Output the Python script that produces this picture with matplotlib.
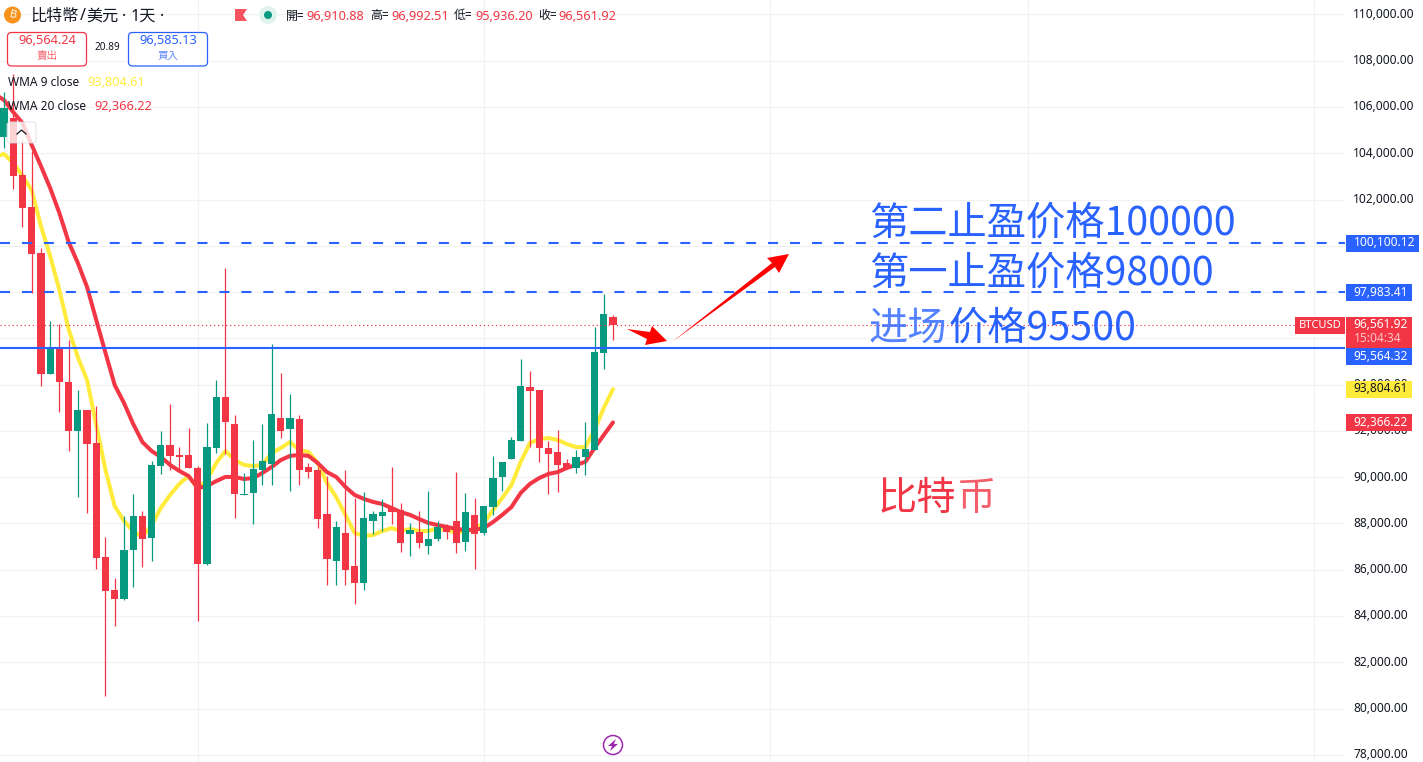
import matplotlib
matplotlib.use("Agg")
import matplotlib.pyplot as plt
from matplotlib.patches import Circle, FancyBboxPatch, Polygon, Rectangle
import numpy as np

plt.rcParams['font.family'] = ['Noto Sans', 'Noto Sans CJK TC', 'DejaVu Sans']
plt.rcParams['lines.scale_dashes'] = False

opens = [104700,105530,103060,101680,99690,94460,95580,94110,92000,92900,91480,86550,85120,84730,86850,88320,87370,90480,91390,90960,
         90960,90400,86250,91260,93460,92300,89230,89320,90310,90570,92560,92080,92510,90440,90310,88410,86380,87590,86160,85430,
         88110,88320,88670,88580,87540,87630,87030,87330,87850,88110,87200,88360,87590,88710,90010,90790,91560,93900,93770,91260,
         91090,90610,90400,90870,91170,95370,96910.88]
highs = [106650,107430,104570,104100,99900,96750,96620,95930,93770,92900,93080,87410,85640,88320,89270,88540,90700,92000,93160,91300,
         92130,90480,92340,94200,99040,92690,90180,91610,92300,95760,94500,93600,92690,90610,90440,90050,88110,90310,89100,89360,
         88540,89060,90440,88880,88020,88540,89400,88110,87980,90220,89320,89100,88750,90920,90660,91740,95110,94590,93770,91560,
         92040,90790,91170,92380,96490,97920,96992.51]
lows = [104230,102460,100810,97960,93940,94460,92820,91130,89140,88450,86030,80540,83570,84690,85250,86120,86380,90140,90310,90310,
        90400,83780,86200,91040,91000,88230,89230,87980,89660,89660,91690,89400,89660,89960,87810,85340,85340,85340,84520,85120,
        87540,87670,87980,86770,86590,86940,86680,87240,87330,86720,86810,86030,87500,88360,89400,90790,91560,91300,90660,89270,
        89360,90350,90180,90090,91170,94680,95936.20]
closes = [105960,103020,101630,99650,94460,95580,94110,92000,92900,91430,86510,85080,84730,86850,88320,87330,90530,91390,90920,90870,
          90400,86250,91300,93460,92380,89270,89270,90350,90700,92730,92000,92560,90310,90220,88190,86460,87850,85990,85430,88240,
          88410,88490,88490,87150,87720,87150,87330,87850,87630,87150,88490,87540,88750,89960,90660,91610,93940,93720,91260,91000,
          90530,90350,90870,91220,95410,97050,96561.92]

# the first value of each moving average belongs to the day just left of the pane
wma9 = [103840,103970,103580,103020,102410,100860,99560,98090,96400,95190,94200,92260,90310,88750,88110,87670,87410,87930,88670,89230,89710,
        90050,89490,89880,90610,91130,90740,90530,90480,90530,91040,91260,91520,91170,91090,90610,89750,89140,88370,87590,87460,
        87500,87670,87800,87670,87760,87670,87670,87800,87720,87590,87670,87760,88020,88580,89100,89660,90660,91480,91650,91690,
        91610,91430,91300,91300,92040,92990,93804.61]
wma20 = [106560,106300,105780,105310,104360,103450,102500,101420,100170,99260,98220,96790,95370,93980,93210,92300,91520,91130,90870,90530,90270,
         90050,89530,89620,89830,90010,90010,89920,89960,90180,90440,90740,90920,90960,90920,90610,90220,90010,89580,89230,89060,
         88930,88840,88670,88490,88370,88190,88020,87930,87850,87760,87720,87720,87800,88060,88370,88710,89320,89710,89960,90140,
         90220,90400,90530,90660,91260,91820,92366.22]

price_ticks = list(range(78000, 110001, 2000))
month_ticks = [21, 52, 83, 111, 142]
entry_price = 95564.32
tp1_price = 97983.41
tp2_price = 100100.12
last_price = 96561.92

GREEN, RED, BLUE, YELLOW = '#089981', '#f23645', '#2962ff', '#ffeb3b'
DARK, GRID = '#131722', '#f2f2f2'
W, H = 1423, 762
PANE_W = 1345
BAR_STEP = 9.227

fig = plt.figure(figsize=(W / 100, H / 100), dpi=100, facecolor='white')
ax = fig.add_axes([0, 0, PANE_W / W, 1], facecolor='white')
ax.set_xlim(-4 / BAR_STEP, (PANE_W - 4) / BAR_STEP)
ax.set_ylim(77688, 110625)
for s in ax.spines.values():
    s.set_visible(False)
ax.yaxis.tick_right()
ax.set_yticks(price_ticks)
ax.set_yticklabels([f'{p:,.2f}' for p in price_ticks], fontsize=8.6, color=DARK, va='center')
ax.tick_params(axis='y', length=0, pad=6.0)
ax.set_xticks(month_ticks)
ax.set_xticklabels([])
ax.tick_params(axis='x', length=0)
ax.grid(True, color=GRID, lw=0.9, zorder=0)
ax.set_axisbelow(True)

idx = np.arange(len(opens))
ax.plot(idx[-1] + np.arange(len(wma9)) - len(wma9) + 1, wma9, color=YELLOW, lw=2.9, zorder=2, solid_joinstyle='round', solid_capstyle='round')
ax.plot(idx[-1] + np.arange(len(wma20)) - len(wma20) + 1, wma20, color=RED, lw=2.9, zorder=2, solid_joinstyle='round', solid_capstyle='round')

o, h, l, c = map(np.array, (opens, highs, lows, closes))
colors = [GREEN if cc >= oo else RED for oo, cc in zip(o, c)]
ax.vlines(idx, l, h, colors=colors, lw=0.9, zorder=3)
ax.bar(idx, np.abs(c - o), bottom=np.minimum(o, c), width=7.2 / BAR_STEP, color=colors, lw=0, zorder=4)

ax.axhline(tp2_price, color=BLUE, lw=1.5, ls=(0, (7.2, 8.6)), zorder=5)
ax.axhline(tp1_price, color=BLUE, lw=1.5, ls=(0, (7.2, 8.6)), zorder=5)
ax.axhline(entry_price, color=BLUE, lw=1.5, zorder=5)
ax.axhline(last_price, xmax=1295 / PANE_W, color=RED, lw=0.8, ls=(0, (0.9, 2.0)), zorder=5)

# overlay in pixel coordinates for the interface furniture and annotations
ov = fig.add_axes([0, 0, 1, 1], facecolor='none', zorder=10)
ov.set_xlim(0, W)
ov.set_ylim(H, 0)
ov.axis('off')

def txt(x, y, s, color=DARK, size=8.6, ha='left', **kw):
    return ov.text(x, y, s, color=color, fontsize=size, ha=ha, va='center', **kw)

def badge(y0, y1, s, fc, tc='white', x0=1346, x1=1412):
    ov.add_patch(Rectangle((x0, y0), x1 - x0, y1 - y0, fc=fc, ec='none', zorder=3))
    ov.text(1353.5, (y0 + y1) / 2 - 0.5, s, color=tc, fontsize=8.6, va='center', zorder=4)

badge(235, 252, '100,100.12', BLUE, x1=1419)
badge(284, 301, '97,983.41', BLUE)
ov.add_patch(Rectangle((1346, 317), 66, 31, fc=RED, ec='none', zorder=3))
ov.text(1353.5, 325, '96,561.92', color='white', fontsize=8.6, va='center', zorder=4)
ov.text(1353.5, 339, '15:04:34', color='#fbc2c7', fontsize=8.6, va='center', zorder=4)
badge(348, 365, '95,564.32', BLUE)
badge(381, 398, '93,804.61', YELLOW, tc=DARK)
badge(414, 431, '92,366.22', RED)
ov.add_patch(Rectangle((1295, 317), 50, 17, fc=RED, ec='none', zorder=3))
ov.text(1320, 325, 'BTCUSD', color='white', fontsize=8.0, ha='center', va='center', zorder=4)

# header
ov.add_patch(Circle((12.5, 15), 8.5, fc='#f7931a', ec='none'))
ov.text(12.8, 15, 'B', color='white', fontsize=8, ha='center', va='center', rotation=-12, weight='bold')
for x, s in [(30, '比特幣'), (79.5, '/'), (86.5, '美元'), (122, '·'), (131, '1天'), (160, '·')]:
    txt(x, 16.5, s, color=DARK, size=11.6)
ov.add_patch(Polygon([(235, 9), (247, 9), (243, 15), (247, 21), (235, 21)], fc='#f7525f', ec='none'))
ov.add_patch(Circle((268, 15), 9, fc='#dff2ee', ec='none'))
ov.add_patch(Circle((268, 15), 4, fc=GREEN, ec='none'))
for xl, lab, xv, val in [(286, '開=', 306, '96,910.88'), (370, '高=', 391, '96,992.51'),
                         (454, '低=', 475, '95,936.20'), (538, '收=', 558, '96,561.92')]:
    txt(xl, 16, lab, size=8.6)
    txt(xv, 16, val, color=RED, size=9.2)

# buy / sell boxes
for x0, col, price, lab in [(7.5, RED, '96,564.24', '賣出'), (128.5, BLUE, '96,585.13', '買入')]:
    ov.add_patch(FancyBboxPatch((x0 + 3, 35.5), 73, 27.5, boxstyle='round,pad=3,rounding_size=4', fc='white', ec=col, lw=0.9))
    txt(x0 + 39.5, 41, price, color=col, size=9.2, ha='center')
    txt(x0 + 39.5, 56, lab, color=col, size=7.6, ha='center', alpha=0.75)
txt(107, 48, '20.89', size=7.2, ha='center')

# legend
ov.add_patch(FancyBboxPatch((9, 124), 25, 17, boxstyle='round,pad=2,rounding_size=3', fc='white', ec='#d8dbe3', lw=0.7, alpha=0.78))
ov.plot([17, 21.5, 26], [134, 130, 134], color=DARK, lw=0.9)
txt(8, 82, 'WMA 9 close')
txt(87.5, 82, '93,804.61', color=YELLOW, size=9.2, weight='medium')
txt(8, 106, 'WMA 20 close')
txt(94.5, 106, '92,366.22', color=RED, size=9.2)

# annotations
SC = ['Noto Sans CJK SC', 'DejaVu Sans']
txt(869, 224, '第二止盈价格100000', color=BLUE, size=28.3, family=SC)
txt(869, 274, '第一止盈价格98000', color=BLUE, size=28.3, family=SC)
txt(869, 329, '进场', color=BLUE, size=28.3, family=SC, alpha=0.8)
txt(948.5, 329, '价格95500', color=BLUE, size=28.3, family=SC)
txt(878, 499, '比特', color=RED, size=28.3, family=SC)
txt(956, 499, '币', color=RED, size=28.3, family=SC, alpha=0.8)

ov.add_patch(Polygon([(627, 329), (650, 332), (652, 326), (667, 341), (645, 345), (647, 339)], fc='#ff0000', ec='none'))
ov.add_patch(Polygon([(672, 342), (772, 263), (767, 258), (789, 254), (779, 273), (775, 267)], fc='#ff0000', ec='none'))

ov.add_patch(Circle((613, 745), 9.5, fc='white', ec='#9c27b0', lw=1.1))
ov.add_patch(Polygon([(616, 739), (608, 746), (612, 746), (610, 751), (618, 744), (614, 744)], fc='#9c27b0', ec='none'))

fig.savefig('out.png', dpi=100)
